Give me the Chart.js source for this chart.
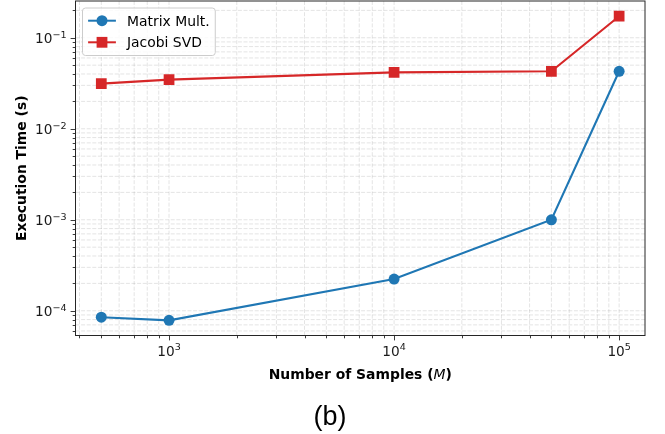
<!DOCTYPE html>
<html>
<head>
<meta charset="utf-8">
<script src="https://cdn.jsdelivr.net/npm/chart.js@4"></script>
<style>
  html, body { margin: 0; padding: 0; background: #ffffff; }
  #wrap { width: 665px; height: 434px; }
</style>
</head>
<body>
<div id="wrap"><canvas id="chart" width="665" height="434"></canvas></div>
<script>
// Execution time vs. number of samples (log-log)
const samples = [500, 1000, 10000, 50000, 100000];
const matrixMult = [8.5e-5, 7.85e-5, 2.23e-4, 1.0e-3, 4.28e-2];
const jacobiSvd = [3.13e-2, 3.47e-2, 4.17e-2, 4.28e-2, 1.726e-1];

const seriesNames = ['Matrix Mult.', 'Jacobi SVD'];
const seriesColors = ['#1f77b4', '#d62728'];

const xTickExponents = [3, 4, 5];
const yTickExponents = [-4, -3, -2, -1];

const xTitle = ['Number of Samples (', 'M', ')'];
const yTitle = 'Execution Time (s)';
const caption = '(b)';

const TICK_FONT = 13.7;
const FONT = '"DejaVu Sans", sans-serif';

function toPoints(xs, ys) {
  return xs.map((x, i) => ({ x: x, y: ys[i] }));
}

// every 1..9 x 10^n value that falls inside [lo, hi]
function logGridValues(lo, hi) {
  const out = [];
  for (let e = Math.floor(Math.log10(lo)); e <= Math.ceil(Math.log10(hi)); e++) {
    for (let m = 1; m <= 9; m++) {
      const v = m * Math.pow(10, e);
      if (v >= lo && v <= hi) out.push({ v: v, major: m === 1 });
    }
  }
  return out;
}

function drawPower(ctx, exp, x, y, align) {
  // "10" with a raised, smaller exponent, like a math-text label
  const base = '10';
  const sup = (exp < 0 ? '\u2212' : '') + Math.abs(exp);
  ctx.font = TICK_FONT + 'px ' + FONT;
  const wb = ctx.measureText(base).width;
  ctx.font = (TICK_FONT * 0.7) + 'px ' + FONT;
  const ws = ctx.measureText(sup).width;
  const total = wb + ws;
  let left = x;
  if (align === 'center') left = x - total / 2;
  else if (align === 'right') left = x - total;
  ctx.textAlign = 'left';
  ctx.textBaseline = 'alphabetic';
  ctx.font = TICK_FONT + 'px ' + FONT;
  ctx.fillText(base, left, y);
  ctx.font = (TICK_FONT * 0.7) + 'px ' + FONT;
  ctx.fillText(sup, left + wb, y - TICK_FONT * 0.4);
}

const axesPlugin = {
  id: 'mplAxes',
  beforeDatasetsDraw(chart) {
    const { ctx, chartArea: a, scales: { x, y } } = chart;
    ctx.save();
    ctx.beginPath();
    ctx.rect(a.left, a.top, a.right - a.left, a.bottom - a.top);
    ctx.clip();
    ctx.strokeStyle = 'rgba(0,0,0,0.14)';
    ctx.lineWidth = 0.8;
    ctx.setLineDash([4, 1.6]);
    logGridValues(x.min, x.max).forEach(t => {
      const px = x.getPixelForValue(t.v);
      ctx.beginPath(); ctx.moveTo(px, a.top); ctx.lineTo(px, a.bottom); ctx.stroke();
    });
    logGridValues(y.min, y.max).forEach(t => {
      const py = y.getPixelForValue(t.v);
      ctx.beginPath(); ctx.moveTo(a.left, py); ctx.lineTo(a.right, py); ctx.stroke();
    });
    ctx.restore();
  },
  afterDatasetsDraw(chart) {
    const { ctx, chartArea: a, scales: { x, y } } = chart;
    ctx.save();
    // frame
    ctx.strokeStyle = '#262626';
    ctx.lineWidth = 1;
    ctx.strokeRect(a.left, a.top, a.right - a.left, a.bottom - a.top);

    // tick marks
    ctx.beginPath();
    logGridValues(x.min, x.max).forEach(t => {
      const px = Math.round(x.getPixelForValue(t.v)) + 0.5;
      const len = t.major ? 4.9 : 2.8;
      ctx.moveTo(px, a.bottom); ctx.lineTo(px, a.bottom + len);
    });
    logGridValues(y.min, y.max).forEach(t => {
      const py = Math.round(y.getPixelForValue(t.v)) + 0.5;
      const len = t.major ? 4.9 : 2.8;
      ctx.moveTo(a.left, py); ctx.lineTo(a.left - len, py);
    });
    ctx.lineWidth = 0.9;
    ctx.stroke();

    // tick labels
    ctx.fillStyle = '#1a1a1a';
    xTickExponents.forEach(e => {
      const px = x.getPixelForValue(Math.pow(10, e));
      drawPower(ctx, e, px, a.bottom + 20, 'center');
    });
    yTickExponents.forEach(e => {
      const py = y.getPixelForValue(Math.pow(10, e));
      drawPower(ctx, e, a.left - 9, py + 5.5, 'right');
    });

    // axis titles
    ctx.fillStyle = '#000000';
    const bold = 'bold 13.9px ' + FONT;
    const ital = 'oblique 13.9px ' + FONT;
    ctx.font = bold;
    const w0 = ctx.measureText(xTitle[0]).width;
    const w2 = ctx.measureText(xTitle[2]).width;
    ctx.font = ital;
    const w1 = ctx.measureText(xTitle[1]).width;
    const cx = (a.left + a.right) / 2;
    let lx = cx - (w0 + w1 + w2) / 2;
    const ty = a.bottom + 43;
    ctx.textAlign = 'left';
    ctx.textBaseline = 'alphabetic';
    ctx.font = bold; ctx.fillText(xTitle[0], lx, ty);
    ctx.font = ital; ctx.fillText(xTitle[1], lx + w0, ty);
    ctx.font = bold; ctx.fillText(xTitle[2], lx + w0 + w1, ty);

    ctx.save();
    ctx.translate(26, (a.top + a.bottom) / 2);
    ctx.rotate(-Math.PI / 2);
    ctx.textAlign = 'center';
    ctx.font = bold;
    ctx.fillText(yTitle, 0, 0);
    ctx.restore();

    // legend
    const lgX = a.left + 7, lgY = a.top + 7;
    ctx.font = '13.9px ' + FONT;
    const textW = Math.max(...seriesNames.map(n => ctx.measureText(n).width));
    const lgW = 5.6 + 27.8 + 11.1 + textW + 5.6;
    const lgH = 47.5;
    ctx.beginPath();
    ctx.roundRect(lgX, lgY, lgW, lgH, 3);
    ctx.fillStyle = 'rgba(255,255,255,0.8)';
    ctx.fill();
    ctx.strokeStyle = '#cccccc';
    ctx.lineWidth = 1;
    ctx.stroke();
    seriesNames.forEach((name, i) => {
      const cy = lgY + 12.7 + i * 21.6;
      const hx0 = lgX + 5.6, hx1 = hx0 + 27.8, mx = (hx0 + hx1) / 2;
      ctx.strokeStyle = seriesColors[i];
      ctx.fillStyle = seriesColors[i];
      ctx.lineWidth = 2;
      ctx.beginPath(); ctx.moveTo(hx0, cy); ctx.lineTo(hx1, cy); ctx.stroke();
      ctx.beginPath();
      if (i === 0) ctx.arc(mx, cy, 5.5, 0, Math.PI * 2);
      else ctx.rect(mx - 5.4, cy - 5.4, 10.8, 10.8);
      ctx.fill();
      ctx.fillStyle = '#000000';
      ctx.textAlign = 'left';
      ctx.textBaseline = 'alphabetic';
      ctx.fillText(name, hx1 + 11.1, cy + 5);
    });

    // panel caption
    ctx.fillStyle = '#000000';
    ctx.font = '27px "Liberation Sans", Arial, sans-serif';
    ctx.textAlign = 'center';
    ctx.fillText(caption, 330, 425);
    ctx.restore();
  }
};

new Chart(document.getElementById('chart'), {
  type: 'line',
  data: {
    datasets: [
      {
        label: seriesNames[0],
        data: toPoints(samples, matrixMult),
        borderColor: seriesColors[0],
        backgroundColor: seriesColors[0],
        borderWidth: 2.1,
        pointStyle: 'circle',
        pointRadius: 5.5,
        pointBorderWidth: 0,
        tension: 0,
        order: 1
      },
      {
        label: seriesNames[1],
        data: toPoints(samples, jacobiSvd),
        borderColor: seriesColors[1],
        backgroundColor: seriesColors[1],
        borderWidth: 2.1,
        pointStyle: 'rect',
        pointRadius: 7.6,
        pointBorderWidth: 0,
        tension: 0,
        order: 0
      }
    ]
  },
  options: {
    responsive: false,
    animation: false,
    devicePixelRatio: 1,
    layout: { autoPadding: false, padding: { top: 1, right: 20, left: 0, bottom: 0 } },
    plugins: { legend: { display: false }, tooltip: { enabled: false } },
    scales: {
      x: {
        type: 'logarithmic',
        min: 384, max: 130300,
        grid: { display: false },
        border: { display: false },
        ticks: { display: false },
        afterFit(scale) { scale.height = 98.5; }
      },
      y: {
        type: 'logarithmic',
        min: 5.35e-5, max: 0.2535,
        grid: { display: false },
        border: { display: false },
        ticks: { display: false },
        afterFit(scale) { scale.width = 75.5; }
      }
    }
  },
  plugins: [axesPlugin]
});
</script>
</body>
</html>
